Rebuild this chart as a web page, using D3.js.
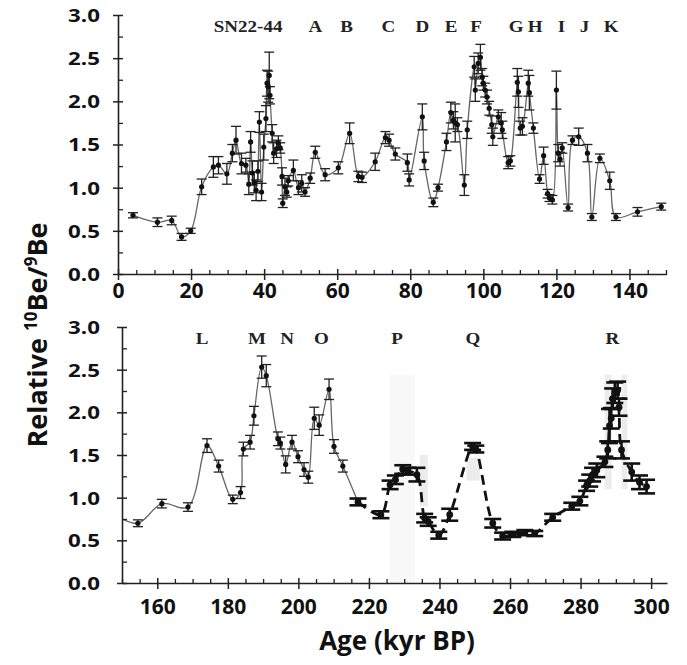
<!DOCTYPE html>
<html>
<head>
<meta charset="utf-8">
<script src="https://cdn.jsdelivr.net/npm/d3@7"></script>
<style>
  body { margin: 0; background: #fff; }
</style>
</head>
<body>
<div id="chart"></div>
<script>
// ---- data ----
// upper panel, 0-150 kyr
var topAge = [4.1, 10.8, 14.7, 17.4, 19.9, 22.9, 26.1, 27.5, 29.8, 31.3, 32.3, 33.8, 35.0, 35.8, 36.3,
  36.8, 37.3, 37.8, 38.3, 38.7, 39.3, 39.9, 40.5, 40.8, 41.1, 41.4, 41.6, 42.2, 42.6, 43.4, 43.9,
  44.4, 44.9, 45.1, 45.7, 46.2, 46.6, 48.0, 49.4, 50.3, 51.2, 52.6, 54.0, 56.7, 60.3, 63.4, 65.8,
  66.8, 70.4, 73.2, 74.2, 75.9, 79.2, 79.7, 83.3, 83.8, 86.3, 87.6, 89.9, 91.1, 91.8, 92.3, 92.9,
  94.8, 95.6, 97.5, 97.8, 98.6, 99.2, 99.7, 100.0, 100.5, 101.0, 101.6, 102.3, 102.6, 104.1, 104.9,
  105.2, 106.8, 107.4, 109.3, 109.6, 110.1, 110.7, 112.3, 112.6, 113.7, 115.4, 116.5, 117.6, 118.1,
  118.9, 120.0, 120.5, 121.0, 121.6, 123.2, 124.4, 126.1, 128.5, 129.7, 131.9, 134.6, 136.3, 142.2, 148.7];
var topVal = [0.68, 0.60, 0.62, 0.43, 0.50, 1.01, 1.24, 1.26, 1.16, 1.40, 1.55, 1.28, 1.26, 1.04, 1.53,
  1.17, 1.06, 0.97, 1.19, 1.76, 0.95, 1.47, 1.80, 2.21, 2.17, 2.30, 2.07, 1.63, 1.40, 1.45, 1.52,
  1.46, 1.13, 0.82, 1.01, 0.95, 1.08, 1.20, 1.00, 1.05, 0.95, 1.11, 1.41, 1.15, 1.23, 1.63, 1.13,
  1.12, 1.30, 1.58, 1.55, 1.39, 1.29, 1.09, 1.82, 1.31, 0.83, 1.00, 1.53, 1.87, 1.78, 1.75, 1.73,
  1.03, 1.67, 2.40, 2.13, 2.44, 2.51, 2.28, 2.21, 2.13, 2.05, 1.92, 1.73, 1.59, 1.82, 1.75,
  1.67, 1.29, 1.31, 2.22, 2.11, 1.69, 1.71, 2.21, 2.10, 1.69, 1.10, 1.37, 0.93, 0.88,
  0.86, 2.13, 1.40, 1.33, 1.46, 0.77, 1.55, 1.59, 1.40, 0.66, 1.34, 1.08, 0.66, 0.72, 0.78];
var topErr = [0.03, 0.05, 0.05, 0.04, 0.03, 0.09, 0.12, 0.10, 0.12, 0.10, 0.16, 0.12, 0.08, 0.12, 0.12,
  0.14, 0.12, 0.12, 0.12, 0.12, 0.10, 0.15, 0.15, 0.15, 0.18, 0.27, 0.10, 0.10, 0.12, 0.10, 0.08,
  0.06, 0.10, 0.05, 0.10, 0.06, 0.06, 0.12, 0.08, 0.10, 0.05, 0.06, 0.07, 0.07, 0.07, 0.12, 0.06,
  0.06, 0.10, 0.07, 0.07, 0.07, 0.10, 0.07, 0.15, 0.10, 0.05, 0.04, 0.10, 0.12, 0.10, 0.22, 0.08,
  0.12, 0.10, 0.12, 0.13, 0.12, 0.15, 0.10, 0.08, 0.08, 0.08, 0.08, 0.10, 0.10, 0.08, 0.12,
  0.10, 0.07, 0.06, 0.16, 0.18, 0.08, 0.10, 0.15, 0.20, 0.06, 0.05, 0.10, 0.05, 0.04,
  0.05, 0.22, 0.10, 0.08, 0.06, 0.04, 0.05, 0.10, 0.10, 0.04, 0.05, 0.10, 0.04, 0.05, 0.04];

// lower panel, 150-300 kyr, thin grey part (first point only carries the line in from the left)
var lowAge = [148.7, 154.5, 161.3, 168.7, 174.1, 177.4, 181.4, 183.6, 184.4, 186.3, 187.4, 189.6, 190.9,
  194.2, 194.9, 196.4, 198.2, 199.9, 201.6, 202.8, 204.5, 205.9, 208.7, 210.1, 212.6, 216.9];
var lowVal = [0.78, 0.70, 0.93, 0.89, 1.61, 1.37, 0.98, 1.06, 1.57, 1.65, 1.96, 2.53, 2.43,
  1.69, 1.64, 1.39, 1.65, 1.48, 1.33, 1.24, 1.93, 1.85, 2.27, 1.60, 1.37, 0.95];
var lowErr = [0.04, 0.04, 0.05, 0.05, 0.08, 0.07, 0.05, 0.07, 0.08, 0.08, 0.11, 0.13, 0.13,
  0.08, 0.07, 0.10, 0.08, 0.07, 0.08, 0.07, 0.13, 0.12, 0.12, 0.08, 0.07, 0.04];

// lower panel, heavy dashed part
var dashAge = [216.9, 223.4, 226.0, 227.5, 229.6, 231.1, 233.6, 235.8, 236.8, 239.8, 242.9, 249.4, 250.3,
  255.1, 257.9, 260.8, 264.2, 267.0, 272.1, 277.5, 279.8, 281.7, 282.6, 283.4, 284.6, 286.9, 287.7,
  288.2, 288.7, 289.1, 289.7, 290.5, 290.9, 291.6, 294.5, 296.7, 298.7];
var dashVal = [0.95, 0.80, 1.15, 1.21, 1.33, 1.31, 1.27, 0.76, 0.72, 0.56, 0.80, 1.60, 1.57,
  0.70, 0.55, 0.57, 0.59, 0.58, 0.77, 0.90, 0.96, 1.14, 1.20, 1.27, 1.32, 1.42, 1.56,
  1.84, 1.93, 2.16, 2.23, 2.26, 2.06, 1.56, 1.30, 1.18, 1.13];
var dashErr = [0.04, 0.04, 0.05, 0.05, 0.05, 0.04, 0.08, 0.05, 0.05, 0.04, 0.07, 0.04, 0.04,
  0.05, 0.04, 0.03, 0.03, 0.03, 0.04, 0.04, 0.05, 0.06, 0.07, 0.08, 0.08, 0.06, 0.10,
  0.20, 0.12, 0.12, 0.12, 0.10, 0.10, 0.10, 0.10, 0.08, 0.08];

// event labels
var topLabels = ["SN22-44", "A", "B", "C", "D", "E", "F", "G", "H", "I", "J", "K"];
var topLabelAge = [35.6, 54, 62.6, 74, 83.3, 91.2, 98, 109, 114.2, 121.4, 127.7, 135];
var lowLabels = ["L", "M", "N", "O", "P", "Q", "R"];
var lowLabelAge = [172.7, 188.3, 196.8, 206.5, 228, 249.5, 289];
var labelLevel = 2.8;

// faint grey scan bands in the lower panel: [from age, to age, low value, high value]
var bands = [[226, 233, 0, 2.44], [234.4, 236.7, 0.9, 1.5], [247.7, 251.4, 1.2, 1.47],
  [286.8, 288.8, 1.1, 2.44], [291.6, 293.3, 1.1, 2.44]];

var topTicks = [0, 20, 40, 60, 80, 100, 120, 140];
var lowTicks = [160, 180, 200, 220, 240, 260, 280, 300];
var yTicks = [0, 0.5, 1, 1.5, 2, 2.5, 3];

// ---- drawing ----
var width = 687, height = 665;
var sans = "'Open Sans', 'DejaVu Sans', sans-serif";
var serif = "'Liberation Serif', 'Times New Roman', serif";

var svg = d3.select("#chart").append("svg")
  .attr("width", width)
  .attr("height", height);

function rows(a, v, e) {
  return a.map(function(d, i) { return {age: d, val: v[i], err: e[i]}; });
}

function drawSeries(g, x, y, data, st) {
  var line = d3.line()
    .x(d => x(d.age))
    .y(d => y(d.val))
    .curve(d3.curveCatmullRom.alpha(0.5));

  g.append("path")
    .attr("d", line(data))
    .attr("fill", "none")
    .attr("stroke", st.line)
    .attr("stroke-width", st.lineWidth)
    .attr("stroke-dasharray", st.dash || null);

  var eb = g.append("g")
    .attr("stroke", st.bar)
    .attr("stroke-width", st.barWidth);
  data.forEach(function(d) {
    var cx = x(d.age), y0 = y(d.val - d.err), y1 = y(d.val + d.err);
    eb.append("line").attr("x1", cx).attr("x2", cx).attr("y1", y0).attr("y2", y1);
    [y0, y1].forEach(function(yy) {
      eb.append("line")
        .attr("x1", cx - st.cap / 2).attr("x2", cx + st.cap / 2)
        .attr("y1", yy).attr("y2", yy);
    });
  });

  g.selectAll(null)
    .data(data)
    .enter().append("circle")
    .attr("cx", d => x(d.age))
    .attr("cy", d => y(d.val))
    .attr("r", st.r)
    .attr("fill", "#111");
}

function drawPanel(p) {
  var x = d3.scaleLinear().domain(p.xDomain).range(p.xRange);
  var y = d3.scaleLinear().domain([0, 3]).range(p.yRange);
  var g = svg.append("g");

  svg.append("clipPath").attr("id", "clip" + p.id)
    .append("rect")
    .attr("x", p.xRange[0]).attr("y", p.yRange[1] - 10)
    .attr("width", p.xRange[1] - p.xRange[0] + 10)
    .attr("height", p.yRange[0] - p.yRange[1] + 10);

  if (p.bands) {
    g.selectAll(null).data(p.bands).enter().append("rect")
      .attr("x", d => x(d[0]))
      .attr("width", d => x(d[1]) - x(d[0]))
      .attr("y", d => y(d[3]))
      .attr("height", d => y(d[2]) - y(d[3]))
      .attr("fill", (d, i) => i === 0 ? "#f8f8f8" : "#ececec");
  }

  var plot = g.append("g").attr("clip-path", "url(#clip" + p.id + ")");
  p.series.forEach(function(s) { drawSeries(plot, x, y, s.data, s.style); });

  // minor ticks
  var minorX = d3.range(p.xDomain[0], p.xDomain[1] + 0.1, 5).filter(v => p.xTicks.indexOf(v) < 0);
  var gmx = g.append("g").attr("transform", "translate(0," + p.yRange[0] + ")")
    .call(d3.axisBottom(x).tickValues(minorX).tickSize(0).tickFormat(""));
  gmx.select(".domain").remove();
  gmx.selectAll(".tick line").attr("y1", 1).attr("y2", -4).attr("stroke", "#222").attr("stroke-width", 1.3);

  var minorY = [0.25, 0.75, 1.25, 1.75, 2.25, 2.75];
  var gmy = g.append("g").attr("transform", "translate(" + p.xRange[0] + ",0)")
    .call(d3.axisLeft(y).tickValues(minorY).tickSize(0).tickFormat(""));
  gmy.select(".domain").remove();
  gmy.selectAll(".tick line").attr("x1", 0).attr("x2", 5).attr("stroke", "#222").attr("stroke-width", 1.3);

  // major axes
  var gx = g.append("g").attr("transform", "translate(0," + p.yRange[0] + ")")
    .call(d3.axisBottom(x).tickValues(p.xTicks).tickSize(6).tickSizeOuter(0).tickFormat(d3.format("d")));
  gx.select(".domain").attr("stroke", "#222").attr("stroke-width", 1.6);
  gx.selectAll(".tick line").attr("y1", -5).attr("stroke", "#222").attr("stroke-width", 1.5);
  gx.selectAll(".tick text")
    .attr("y", p.xLabelGap).attr("dy", "0.71em")
    .attr("fill", "#111")
    .style("font-family", sans).style("font-weight", "bold").style("font-size", "21px");

  var gy = g.append("g").attr("transform", "translate(" + p.xRange[0] + ",0)")
    .call(d3.axisLeft(y).tickValues(yTicks).tickSize(5).tickSizeOuter(0).tickFormat(d3.format(".1f")));
  gy.select(".domain").attr("stroke", "#222").attr("stroke-width", 1.6);
  gy.selectAll(".tick line").attr("x2", 5).attr("x1", -5).attr("stroke", "#222").attr("stroke-width", 1.5);
  gy.selectAll(".tick text")
    .attr("x", null).attr("dy", "0.36em")
    .attr("transform", "translate(" + (-p.yLabelGap) + ",0) scale(1.24,1)")
    .attr("fill", "#111")
    .style("font-family", sans).style("font-weight", "bold").style("font-size", "18px");

  // event letters
  g.selectAll(null).data(p.labels).enter().append("text")
    .attr("transform", (d, i) => "translate(" + x(p.labelAge[i]) + "," + y(labelLevel) + ") scale(1.12,1)")
    .attr("text-anchor", "middle")
    .attr("fill", "#222")
    .style("font-family", serif).style("font-weight", "bold").style("font-size", "17px")
    .text(d => d);
}

var thin = {line: "#666", lineWidth: 1.3, bar: "#222", barWidth: 1.3, cap: 10, r: 2.6};
var heavy = {line: "#111", lineWidth: 2.8, dash: "10,6", bar: "#111", barWidth: 2.6, cap: 17, r: 3.4};

drawPanel({
  id: "top", xDomain: [0, 150], xRange: [118, 666], yRange: [274, 15],
  xTicks: topTicks, xLabelGap: 9, yLabelGap: 18,
  series: [{data: rows(topAge, topVal, topErr), style: thin}],
  labels: topLabels, labelAge: topLabelAge
});

drawPanel({
  id: "low", xDomain: [150, 304.5], xRange: [122, 667], yRange: [583, 327],
  xTicks: lowTicks, xLabelGap: 16, yLabelGap: 22, bands: bands,
  series: [{data: rows(lowAge, lowVal, lowErr), style: thin},
           {data: rows(dashAge, dashVal, dashErr), style: heavy}],
  labels: lowLabels, labelAge: lowLabelAge
});

// axis titles
svg.append("text")
  .attr("x", 397).attr("y", 650)
  .attr("text-anchor", "middle")
  .attr("fill", "#111")
  .style("font-family", sans).style("font-weight", "bold").style("font-size", "26px")
  .text("Age (kyr BP)");

var yt = svg.append("text")
  .attr("transform", "translate(47,335) rotate(-90)")
  .attr("text-anchor", "middle")
  .attr("fill", "#111")
  .style("font-family", sans).style("font-weight", "bold").style("font-size", "27px");
yt.append("tspan").text("Relative ");
yt.append("tspan").attr("dy", -10).style("font-size", "17px").text("10");
yt.append("tspan").attr("dy", 10).text("Be/");
yt.append("tspan").attr("dy", -10).style("font-size", "17px").text("9");
yt.append("tspan").attr("dy", 10).text("Be");
</script>
</body>
</html>
